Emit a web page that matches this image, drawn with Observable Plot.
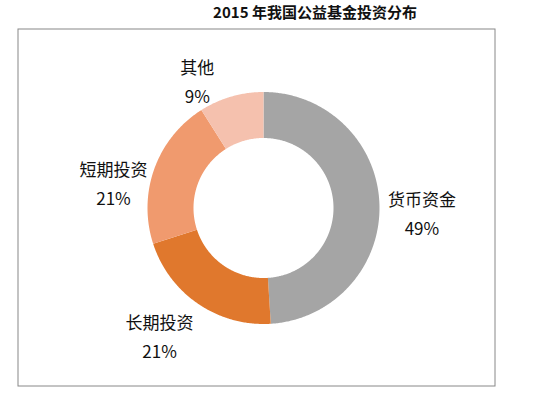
<!DOCTYPE html>
<html>
<head>
<meta charset="utf-8">
<script src="https://cdn.jsdelivr.net/npm/d3@7"></script>
<script src="https://cdn.jsdelivr.net/npm/@observablehq/plot@0.6"></script>
<style>
  body { margin: 0; background: #fff; font-family: "Noto Sans CJK SC", "Noto Sans", sans-serif; }
  #title { width: 538px; height: 26px; box-sizing: border-box; padding-left: 92px; text-align: center;
           font-size: 15px; font-weight: bold; line-height: 24px; color: #111; }
</style>
</head>
<body>
<div id="title">2015 年我国公益基金投资分布</div>
<div id="chart"></div>
<script>
const categories = ["货币资金", "长期投资", "短期投资", "其他"];
const shares = [49, 21, 21, 9];
const percentLabels = ["49%", "21%", "21%", "9%"];
const colors = ["#a5a5a5", "#e0782d", "#f09a6e", "#f5c1ae"];

const W = 538, H = 369;
const cx = 263, cy = 181.5;           // donut centre inside the svg (px)
const rOuter = 116, rInner = 70, rLabel = 160;
const mL = 17.5, mR = 43.5, mT = 2.5, mB = 9.5;

const pie = d3.pie().sort(null).value(d => d.value)(categories.map((c, i) => ({name: c, value: shares[i], pct: percentLabels[i]})));

// polygon outline of each ring segment, in pixel units about the centre
const pts = [];
for (const s of pie) {
  const n = Math.max(8, Math.ceil((s.endAngle - s.startAngle) / 0.01));
  for (let k = 0; k <= n; k++) {
    const a = s.startAngle + (s.endAngle - s.startAngle) * k / n;
    pts.push({name: s.data.name, x: rOuter * Math.sin(a), y: -rOuter * Math.cos(a)});
  }
  for (let k = n; k >= 0; k--) {
    const a = s.startAngle + (s.endAngle - s.startAngle) * k / n;
    pts.push({name: s.data.name, x: rInner * Math.sin(a), y: -rInner * Math.cos(a)});
  }
}

// label placement: outside the ring at mid-angle, with small adjustments
const nudge = [[-1.5, 8.5], [-14, -6], [0.5, 27.5], [-21.5, 25]];
const labels = pie.map((s, i) => {
  const a = (s.startAngle + s.endAngle) / 2;
  return {text: s.data.name + "\n" + s.data.pct,
          x: rLabel * Math.sin(a) + nudge[i][0],
          y: -rLabel * Math.cos(a) + nudge[i][1]};
});

const chart = Plot.plot({
  width: W, height: H,
  marginLeft: mL, marginRight: mR, marginTop: mT, marginBottom: mB,
  x: {domain: [mL - cx, W - mR - cx], range: [mL, W - mR], axis: null},
  y: {domain: [mT - cy, H - mB - cy], range: [mT, H - mB], axis: null},
  color: {domain: categories, range: colors},
  style: {fontFamily: '"Noto Sans CJK SC", "Noto Sans", sans-serif', background: "#fff"},
  marks: [
    Plot.frame({stroke: "#888", strokeWidth: 1}),
    Plot.line(pts, {x: "x", y: "y", z: "name", fill: "name", stroke: null, curve: "linear-closed"}),
    Plot.text(labels, {x: "x", y: "y", text: "text", fontSize: 17, lineHeight: 1.72, fill: "#111", textAnchor: "middle", lineAnchor: "middle"})
  ]
});
document.getElementById("chart").appendChild(chart);
</script>
</body>
</html>
